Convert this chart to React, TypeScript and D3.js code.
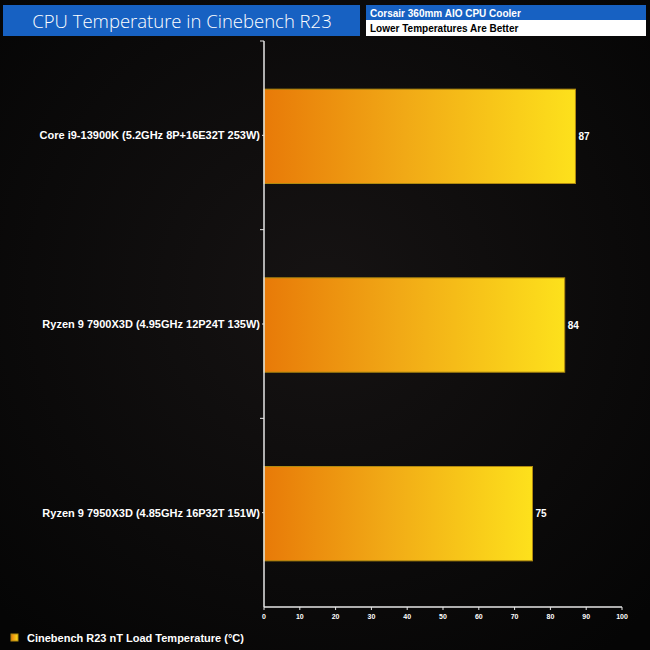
import React from 'react';
import * as d3 from 'd3';

const categories = [
  'Core i9-13900K (5.2GHz 8P+16E32T 253W)',
  'Ryzen 9 7900X3D (4.95GHz 12P24T 135W)',
  'Ryzen 9 7950X3D (4.85GHz 16P32T 151W)',
];
const temps = [87, 84, 75];
const xTicks = [0, 10, 20, 30, 40, 50, 60, 70, 80, 90, 100];

const title = 'CPU Temperature in Cinebench R23';
const subtitle1 = 'Corsair 360mm AIO CPU Cooler';
const subtitle2 = 'Lower Temperatures Are Better';
const legendLabel = 'Cinebench R23 nT Load Temperature (°C)';

const W = 650;
const H = 650;
const margin = { top: 41, right: 28, bottom: 43, left: 264 };
const labelFont = '"Liberation Sans", Arial, sans-serif';

export default function App() {
  const x = d3.scaleLinear().domain([0, 100]).range([margin.left, W - margin.right]);
  const y = d3.scaleBand<string>()
    .domain(categories)
    .range([margin.top, H - margin.bottom])
    .paddingInner(0.5)
    .paddingOuter(0.25);
  const band = d3.scaleBand<string>()
    .domain(categories)
    .range([margin.top, H - margin.bottom]);
  const x0 = x(0);
  const yBottom = H - margin.bottom;

  return (
    <svg width={W} height={H} style={{ position: 'absolute', left: 0, top: 0 }}>
      <defs>
        <linearGradient id="barGrad" x1="0" x2="1" y1="0" y2="0">
          <stop offset="0%" stopColor="#e87a08" />
          <stop offset="45%" stopColor="#f1a916" />
          <stop offset="100%" stopColor="#fde11c" />
        </linearGradient>
        <radialGradient id="bgGrad" cx="50%" cy="45%" r="70%">
          <stop offset="0%" stopColor="#161313" />
          <stop offset="100%" stopColor="#050505" />
        </radialGradient>
      </defs>
      <rect width={W} height={H} fill="url(#bgGrad)" />

      {/* header */}
      <rect x={3} y={5} width={357} height={31} fill="#1761c2" />
      <text x={182} y={28} textAnchor="middle" fill="#fff" fontSize={18.5}
        fontFamily='"Open Sans", "Noto Sans", sans-serif' fontWeight={300}>{title}</text>
      <rect x={366} y={5} width={280} height={15} fill="#1761c2" />
      <rect x={366} y={20} width={280} height={16} fill="#fff" />
      <text x={370} y={16.5} fill="#fff" fontSize={10} fontWeight="bold" fontFamily={labelFont}>{subtitle1}</text>
      <text x={370} y={32} fill="#000" fontSize={10} fontWeight="bold" fontFamily={labelFont}>{subtitle2}</text>

      {/* bars */}
      {categories.map((c, i) => (
        <g key={c}>
          <rect x={x0} y={(y(c) ?? 0) + 1} width={x(temps[i]) - x0} height={y.bandwidth()}
            fill="url(#barGrad)" stroke="#b08a10" strokeWidth={1} />
          <text x={x(temps[i]) + 3} y={(y(c) ?? 0) + y.bandwidth() / 2 + 4.5} fill="#fff"
            fontSize={10} fontWeight="bold" fontFamily={labelFont}>{temps[i]}</text>
          <text x={x0 - 4} y={(band(c) ?? 0) + band.bandwidth() / 2 + 4} textAnchor="end" fill="#fff"
            fontSize={11} fontWeight="bold" fontFamily={labelFont}>{c}</text>
          <line x1={x0 - 2} x2={x0} y1={(band(c) ?? 0) + band.bandwidth() / 2}
            y2={(band(c) ?? 0) + band.bandwidth() / 2} stroke="#ddd" />
        </g>
      ))}

      {/* y axis */}
      <line x1={x0} x2={x0} y1={margin.top} y2={yBottom} stroke="#e6e6e6" strokeWidth={1.5} />
      {categories.map(c => (
        <line key={c} x1={x0 - 4} x2={x0} y1={band(c)} y2={band(c)} stroke="#e6e6e6" />
      ))}

      {/* x axis */}
      <line x1={x0} x2={x(100)} y1={yBottom} y2={yBottom} stroke="#e6e6e6" strokeWidth={1.5} />
      {xTicks.map(t => (
        <g key={t}>
          <line x1={x(t)} x2={x(t)} y1={yBottom} y2={yBottom + 3} stroke="#e6e6e6" />
          <text x={x(t)} y={yBottom + 12} textAnchor="middle" fill="#fff" fontSize={7}
            fontWeight="bold" fontFamily={labelFont}>{t}</text>
        </g>
      ))}

      {/* legend */}
      <rect x={11} y={634} width={7} height={7} fill="url(#barGrad)" stroke="#b08a10" />
      <text x={27} y={641.5} fill="#fff" fontSize={11} fontWeight="bold" fontFamily={labelFont}>{legendLabel}</text>
    </svg>
  );
}
